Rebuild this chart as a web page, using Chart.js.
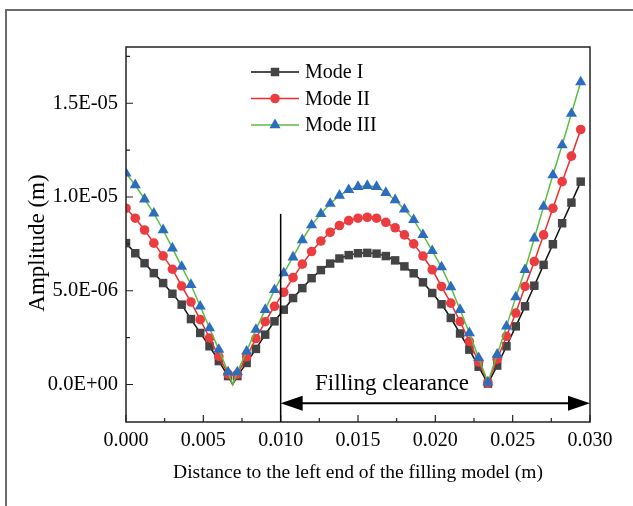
<!DOCTYPE html>
<html>
<head>
<meta charset="utf-8">
<script src="https://cdn.jsdelivr.net/npm/chart.js@4.4.1/dist/chart.umd.min.js"></script>
<style>
  html, body { margin: 0; padding: 0; background: #fff; overflow: hidden; }
  #wrap { position: relative; width: 633px; height: 506px; overflow: hidden; }
  #frame { position: absolute; left: 5px; top: 9px; width: 700px; height: 600px;
           border-left: 2px solid #6b6b6b; border-top: 2px solid #6b6b6b; }
  canvas { position: absolute; left: 0; top: 0; }
</style>
</head>
<body>
<div id="wrap">
  <canvas id="modeChart" width="633" height="506"></canvas>
  <div id="frame"></div>
</div>
<script>
// positions along the model (m); 0.0069 is the node where the curves touch zero
const xs = [0, 0.0006, 0.0012, 0.0018, 0.0024, 0.003, 0.0036, 0.0042, 0.0048, 0.0054, 0.006, 0.0066,
  0.0069,
  0.0072, 0.0078, 0.0084, 0.009, 0.0096, 0.0102, 0.0108, 0.0114, 0.012, 0.0126,
  0.0132, 0.0138, 0.0144, 0.015, 0.0156, 0.0162, 0.0168, 0.0174, 0.018, 0.0186,
  0.0192, 0.0198, 0.0204, 0.021, 0.0216, 0.0222, 0.0228, 0.0234, 0.024, 0.0246,
  0.0252, 0.0258, 0.0264, 0.027, 0.0276, 0.0282, 0.0288, 0.0294];
const nodeX = [0.0069]; // line-only points, no marker

// amplitudes (m)
const modeI = [7.54e-6, 7.00e-6, 6.47e-6, 5.94e-6, 5.41e-6, 4.84e-6, 4.26e-6, 3.49e-6, 2.75e-6, 2.04e-6, 1.25e-6, 0.45e-6,
  0,
  0.45e-6, 1.15e-6, 1.90e-6, 2.66e-6, 3.37e-6, 3.99e-6, 4.61e-6, 5.14e-6, 5.67e-6, 6.10e-6,
  6.45e-6, 6.72e-6, 6.90e-6, 7.00e-6, 7.02e-6, 6.98e-6, 6.85e-6, 6.62e-6, 6.30e-6, 5.93e-6,
  5.45e-6, 4.88e-6, 4.28e-6, 3.55e-6, 2.72e-6, 1.86e-6, 0.95e-6, 0.05e-6, 1.01e-6, 2.04e-6,
  3.10e-6, 4.17e-6, 5.27e-6, 6.38e-6, 7.48e-6, 8.60e-6, 9.70e-6, 10.82e-6];
const modeII = [9.40e-6, 8.87e-6, 8.24e-6, 7.54e-6, 6.86e-6, 6.15e-6, 5.25e-6, 4.40e-6, 3.46e-6, 2.48e-6, 1.50e-6, 0.55e-6,
  0,
  0.55e-6, 1.48e-6, 2.45e-6, 3.35e-6, 4.17e-6, 4.92e-6, 5.70e-6, 6.42e-6, 7.09e-6, 7.65e-6,
  8.12e-6, 8.48e-6, 8.74e-6, 8.87e-6, 8.92e-6, 8.87e-6, 8.65e-6, 8.36e-6, 7.98e-6, 7.50e-6,
  6.85e-6, 6.12e-6, 5.23e-6, 4.34e-6, 3.36e-6, 2.30e-6, 1.20e-6, 0.10e-6, 1.35e-6, 2.57e-6,
  3.81e-6, 5.23e-6, 6.56e-6, 7.98e-6, 9.40e-6, 10.82e-6, 12.18e-6, 13.60e-6];
const modeIII = [11.26e-6, 10.64e-6, 9.88e-6, 9.13e-6, 8.24e-6, 7.27e-6, 6.29e-6, 5.32e-6, 4.17e-6, 3.01e-6, 1.86e-6, 0.66e-6,
  0,
  0.66e-6, 1.77e-6, 2.93e-6, 3.99e-6, 5.05e-6, 5.94e-6, 6.79e-6, 7.71e-6, 8.50e-6, 9.10e-6,
  9.65e-6, 10.08e-6, 10.38e-6, 10.55e-6, 10.60e-6, 10.55e-6, 10.23e-6, 9.84e-6, 9.34e-6, 8.78e-6,
  7.98e-6, 7.13e-6, 6.26e-6, 5.20e-6, 3.99e-6, 2.75e-6, 1.42e-6, 0.12e-6, 1.60e-6, 3.10e-6,
  4.66e-6, 6.12e-6, 7.80e-6, 9.49e-6, 11.17e-6, 12.77e-6, 14.45e-6, 16.13e-6];

const seriesNames = ['Mode I', 'Mode II', 'Mode III'];

const xTickValues = [0, 0.005, 0.01, 0.015, 0.02, 0.025, 0.03];
const xTickLabels = ['0.000', '0.005', '0.010', '0.015', '0.020', '0.025', '0.030'];
const xMinorTicks = [0.0025, 0.0075, 0.0125, 0.0175, 0.0225, 0.0275];
const yTickValues = [0, 5e-6, 1e-5, 1.5e-5];
const yTickLabels = ['0.0E+00', '5.0E-06', '1.0E-05', '1.5E-05'];
const yMinorTicks = [2.5e-6, 7.5e-6, 1.25e-5, 1.75e-5];

// filling clearance marker: divider at 0.010 and double arrow to the right end
const clearanceStart = 0.01;
const clearanceEnd = 0.03;
const dividerTop = 9.1e-6;
const arrowLevel = -1.0e-6;
const clearanceLabel = 'Filling clearance';
const yTitle = 'Amplitude (m)';

const FONT = 'Liberation Serif';
Chart.defaults.font.family = FONT;
Chart.defaults.color = '#000';

const markerRadius = { rect: 6, circle: 4.8, triangle: 6.4 };

function series(values) {
  return values.map((v, i) => ({ x: xs[i], y: v }));
}

function markerSize(r) {
  return ctx => nodeX.includes(xs[ctx.dataIndex]) ? 0 : r;
}

const datasets = [
  { label: seriesNames[0], data: series(modeI), borderColor: '#111', backgroundColor: '#444',
    pointStyle: 'rect', pointRadius: markerSize(markerRadius.rect), pointBorderWidth: 0, borderWidth: 1.5, order: 3 },
  { label: seriesNames[1], data: series(modeII), borderColor: '#ee2c2c', backgroundColor: '#eb3c40',
    pointStyle: 'circle', pointRadius: markerSize(markerRadius.circle), pointBorderWidth: 0, borderWidth: 1.5, order: 2 },
  { label: seriesNames[2], data: series(modeIII), borderColor: '#5cbd45', backgroundColor: '#2c6dbd',
    pointStyle: 'triangle', pointRadius: markerSize(markerRadius.triangle), pointBorderWidth: 0, borderWidth: 1.5, order: 1 }
];

const decorations = {
  id: 'decorations',
  afterDraw(chart) {
    const { ctx, chartArea: a, scales: { x, y } } = chart;
    ctx.save();

    // plot box
    ctx.strokeStyle = '#222';
    ctx.lineWidth = 1.5;
    ctx.strokeRect(a.left, a.top, a.right - a.left, a.bottom - a.top);

    // inward tick marks
    ctx.lineWidth = 1.2;
    ctx.beginPath();
    xTickValues.forEach(v => { const px = x.getPixelForValue(v); ctx.moveTo(px, a.bottom); ctx.lineTo(px, a.bottom - 7); });
    xMinorTicks.forEach(v => { const px = x.getPixelForValue(v); ctx.moveTo(px, a.bottom); ctx.lineTo(px, a.bottom - 4); });
    yTickValues.forEach(v => { const py = y.getPixelForValue(v); ctx.moveTo(a.left, py); ctx.lineTo(a.left + 7, py); });
    yMinorTicks.forEach(v => { const py = y.getPixelForValue(v); ctx.moveTo(a.left, py); ctx.lineTo(a.left + 4, py); });
    ctx.stroke();

    // y axis title, sitting a little below the middle of the axis
    ctx.fillStyle = '#000';
    ctx.font = '23px "' + FONT + '"';
    ctx.textAlign = 'center';
    ctx.textBaseline = 'middle';
    ctx.save();
    ctx.translate(38, 243);
    ctx.rotate(-Math.PI / 2);
    ctx.fillText(yTitle, 0, 0);
    ctx.restore();

    // divider line
    const dx = x.getPixelForValue(clearanceStart);
    ctx.strokeStyle = '#000';
    ctx.lineWidth = 1.5;
    ctx.beginPath();
    ctx.moveTo(dx, y.getPixelForValue(dividerTop));
    ctx.lineTo(dx, a.bottom);
    ctx.stroke();

    // double arrow
    const ax0 = dx, ax1 = x.getPixelForValue(clearanceEnd);
    const ay = y.getPixelForValue(arrowLevel);
    const headL = 22, headH = 7.5;
    ctx.lineWidth = 2;
    ctx.beginPath();
    ctx.moveTo(ax0 + headL - 2, ay);
    ctx.lineTo(ax1 - headL + 2, ay);
    ctx.stroke();
    ctx.beginPath();
    ctx.moveTo(ax0, ay); ctx.lineTo(ax0 + headL, ay - headH); ctx.lineTo(ax0 + headL, ay + headH); ctx.closePath();
    ctx.moveTo(ax1, ay); ctx.lineTo(ax1 - headL, ay - headH); ctx.lineTo(ax1 - headL, ay + headH); ctx.closePath();
    ctx.fill();

    ctx.font = '23px "' + FONT + '"';
    ctx.fillText(clearanceLabel, x.getPixelForValue(0.0172), y.getPixelForValue(0) - 1);

    // legend: line with marker, then the name
    const lx = 251, lw = 48, rowY = [72, 98.5, 125];
    ctx.font = '20px "' + FONT + '"';
    ctx.textAlign = 'left';
    chart.data.datasets.forEach((ds, i) => {
      const ly = rowY[i];
      ctx.strokeStyle = ds.borderColor;
      ctx.lineWidth = 1.5;
      ctx.beginPath();
      ctx.moveTo(lx, ly);
      ctx.lineTo(lx + lw, ly);
      ctx.stroke();
      ctx.fillStyle = ds.backgroundColor;
      Chart.helpers.drawPoint(ctx, { pointStyle: ds.pointStyle, radius: markerRadius[ds.pointStyle], borderWidth: 0 }, lx + lw / 2, ly);
      ctx.fillStyle = '#000';
      ctx.fillText(ds.label, lx + lw + 6, ly + 1);
    });

    ctx.restore();
  }
};

new Chart(document.getElementById('modeChart'), {
  type: 'line',
  data: { datasets },
  plugins: [decorations],
  options: {
    responsive: false,
    animation: false,
    events: [],
    layout: { padding: { left: 0, right: 43, top: 47, bottom: 0 } },
    plugins: { legend: { display: false }, tooltip: { enabled: false } },
    scales: {
      x: {
        type: 'linear',
        min: 0,
        max: 0.03,
        afterBuildTicks: s => { s.ticks = xTickValues.map(v => ({ value: v })); },
        afterFit: s => { s.height = 84; },
        grid: { display: false, drawTicks: false, tickLength: 0 },
        border: { display: false },
        ticks: { autoSkip: false, maxRotation: 0, padding: 7, font: { size: 20 },
                 callback: (v, i) => xTickLabels[i] },
        title: { display: true, text: 'Distance to the left end of the filling model (m)',
                 font: { size: 19.5 }, padding: { top: 0, bottom: 21 } }
      },
      y: {
        type: 'linear',
        min: -2e-6,
        max: 1.8e-5,
        afterBuildTicks: s => { s.ticks = yTickValues.map(v => ({ value: v })); },
        afterFit: s => { s.width = 126; },
        grid: { display: false, drawTicks: false, tickLength: 0 },
        border: { display: false },
        ticks: { autoSkip: false, padding: 8, font: { size: 20.5 },
                 callback: (v, i) => yTickLabels[i] }
      }
    }
  }
});
</script>
</body>
</html>
